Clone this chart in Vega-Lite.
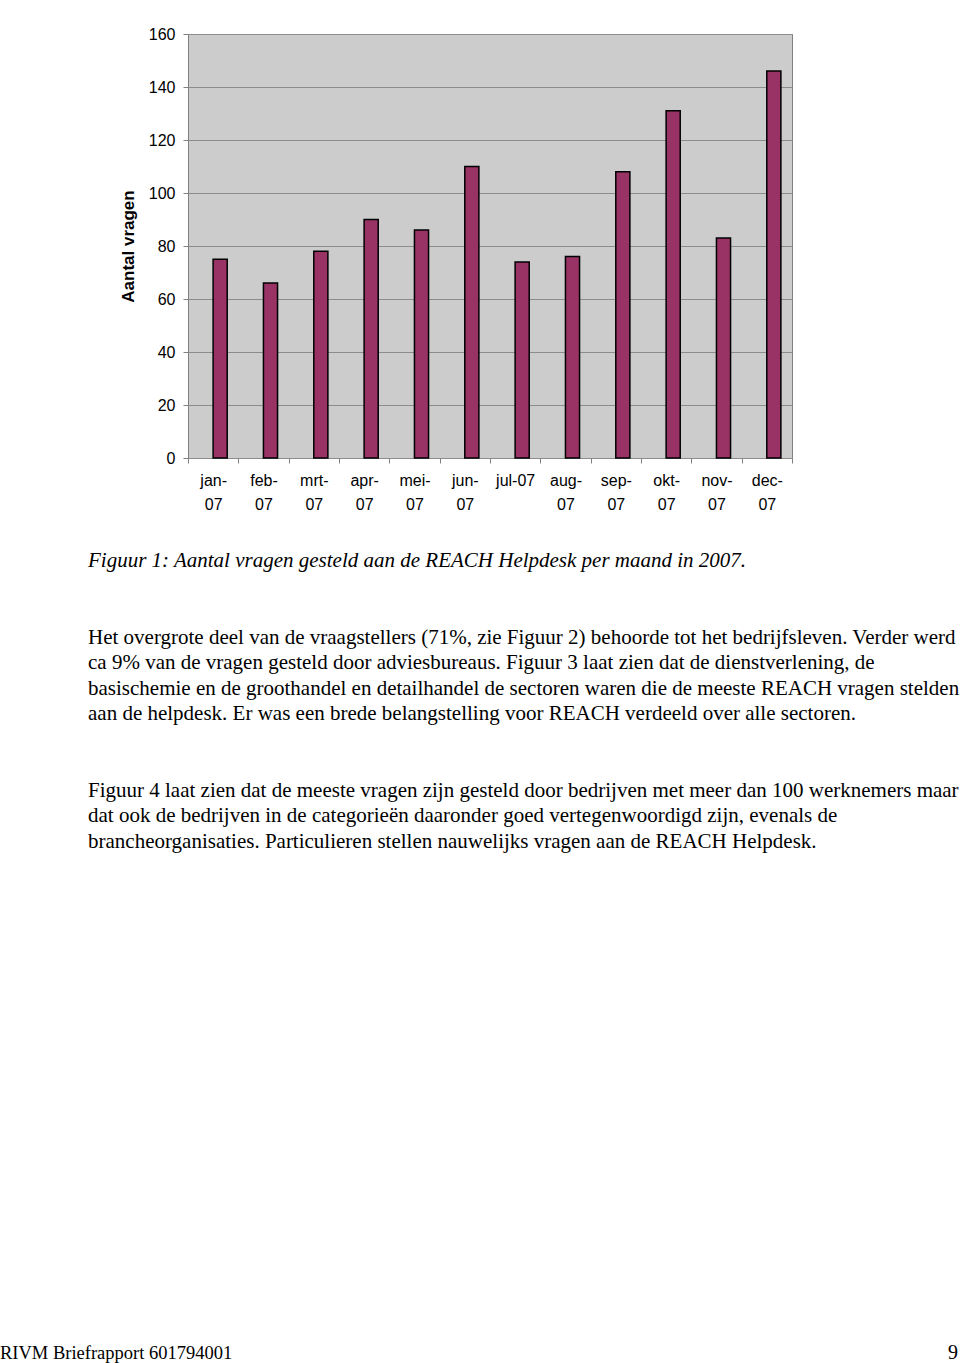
{
  "$schema": "https://vega.github.io/schema/vega-lite/v6.json",
  "background": "white",
  "padding": {"left": 0, "top": 25, "right": 0, "bottom": 0},
  "bounds": "flush",
  "spacing": 103,
  "config": {"view": {"stroke": null}, "font": "Liberation Sans"},
  "vconcat": [
    {
      "width": 604,
      "height": 424,
      "view": {"fill": "#cccccc", "stroke": "#808080", "strokeWidth": 1},
      "data": {
        "values": [
          {"month": "jan-07", "vragen": 75},
          {"month": "feb-07", "vragen": 66},
          {"month": "mrt-07", "vragen": 78},
          {"month": "apr-07", "vragen": 90},
          {"month": "mei-07", "vragen": 86},
          {"month": "jun-07", "vragen": 110},
          {"month": "jul-07", "vragen": 74},
          {"month": "aug-07", "vragen": 76},
          {"month": "sep-07", "vragen": 108},
          {"month": "okt-07", "vragen": 131},
          {"month": "nov-07", "vragen": 83},
          {"month": "dec-07", "vragen": 146}
        ]
      },
      "mark": {"type": "bar", "width": {"band": 0.28}, "xOffset": 7, "fill": "#993366", "stroke": "#000000", "strokeWidth": 1.5},
      "encoding": {
        "x": {
          "field": "month",
          "type": "nominal",
          "sort": null,
          "scale": {"paddingInner": 0, "paddingOuter": 0},
          "axis": {
            "title": null,
            "labelExpr": "isValid(datum.value) ? (datum.value == 'jul-07' ? datum.value : [substring(datum.value, 0, 4), substring(datum.value, 4)]) : ''",
            "labelAngle": 0,
            "labelFont": "Liberation Sans",
            "labelFontSize": 16,
            "labelColor": "#000000",
            "labelLineHeight": 24,
            "labelBaseline": "top",
            "labelPadding": 9,
            "labelOverlap": false,
            "labelBound": false,
            "tickBand": "extent",
            "tickSize": 5,
            "tickColor": "#808080",
            "domain": false,
            "grid": false
          }
        },
        "y": {
          "field": "vragen",
          "type": "quantitative",
          "scale": {"domain": [0, 160], "nice": false},
          "axis": {
            "title": "Aantal vragen",
            "titleFont": "Liberation Sans",
            "titleFontSize": 17,
            "titleFontWeight": "bold",
            "titleColor": "#000000",
            "titlePadding": 11,
            "labelFont": "Liberation Sans",
            "labelFontSize": 16,
            "labelColor": "#000000",
            "labelPadding": 8,
            "tickSize": 5,
            "tickColor": "#808080",
            "domain": false,
            "grid": true,
            "gridColor": "#8c8c8c",
            "values": [0, 20, 40, 60, 80, 100, 120, 140, 160]
          }
        }
      }
    },
    {
      "width": 770,
      "height": 792,
      "data": {
        "values": [
          {"line": 0, "kind": "caption", "text": "Figuur 1: Aantal vragen gesteld aan de REACH Helpdesk per maand in 2007."},
          {"line": 3, "kind": "body", "text": "Het overgrote deel van de vraagstellers (71%, zie Figuur 2) behoorde tot het bedrijfsleven. Verder werd"},
          {"line": 4, "kind": "body", "text": "ca 9% van de vragen gesteld door adviesbureaus. Figuur 3 laat zien dat de dienstverlening, de"},
          {"line": 5, "kind": "body", "text": "basischemie en de groothandel en detailhandel de sectoren waren die de meeste REACH vragen stelden"},
          {"line": 6, "kind": "body", "text": "aan de helpdesk. Er was een brede belangstelling voor REACH verdeeld over alle sectoren."},
          {"line": 9, "kind": "body", "text": "Figuur 4 laat zien dat de meeste vragen zijn gesteld door bedrijven met meer dan 100 werknemers maar"},
          {"line": 10, "kind": "body", "text": "dat ook de bedrijven in de categorieën daaronder goed vertegenwoordigd zijn, evenals de"},
          {"line": 11, "kind": "body", "text": "brancheorganisaties. Particulieren stellen nauwelijks vragen aan de REACH Helpdesk."},
          {"line": 31, "kind": "footer", "text": "RIVM Briefrapport  601794001"},
          {"line": 31, "kind": "page", "text": "9"}
        ]
      },
      "encoding": {
        "y": {"field": "line", "type": "quantitative", "scale": {"domain": [0, 31], "reverse": true, "nice": false, "zero": false}, "axis": null},
        "text": {"field": "text", "type": "nominal"}
      },
      "layer": [
        {
          "transform": [{"filter": "datum.kind == 'caption'"}],
          "mark": {"type": "text", "align": "left", "baseline": "middle", "dx": -100, "font": "Liberation Serif", "fontSize": 21, "fontStyle": "italic", "color": "#000000"},
          "encoding": {"x": {"datum": 0, "type": "quantitative", "scale": {"domain": [0, 1]}, "axis": null}}
        },
        {
          "transform": [{"filter": "datum.kind == 'body'"}],
          "mark": {"type": "text", "align": "left", "baseline": "middle", "dx": -100, "font": "Liberation Serif", "fontSize": 21, "color": "#000000"},
          "encoding": {"x": {"datum": 0, "type": "quantitative", "scale": {"domain": [0, 1]}, "axis": null}}
        },
        {
          "transform": [{"filter": "datum.kind == 'footer'"}],
          "mark": {"type": "text", "align": "left", "baseline": "middle", "dx": -188, "font": "Liberation Serif", "fontSize": 18.5, "color": "#000000"},
          "encoding": {"x": {"datum": 0, "type": "quantitative", "scale": {"domain": [0, 1]}, "axis": null}}
        },
        {
          "transform": [{"filter": "datum.kind == 'page'"}],
          "mark": {"type": "text", "align": "right", "baseline": "middle", "font": "Liberation Serif", "fontSize": 20, "color": "#000000"},
          "encoding": {"x": {"datum": 1, "type": "quantitative", "scale": {"domain": [0, 1]}, "axis": null}}
        }
      ]
    }
  ]
}
